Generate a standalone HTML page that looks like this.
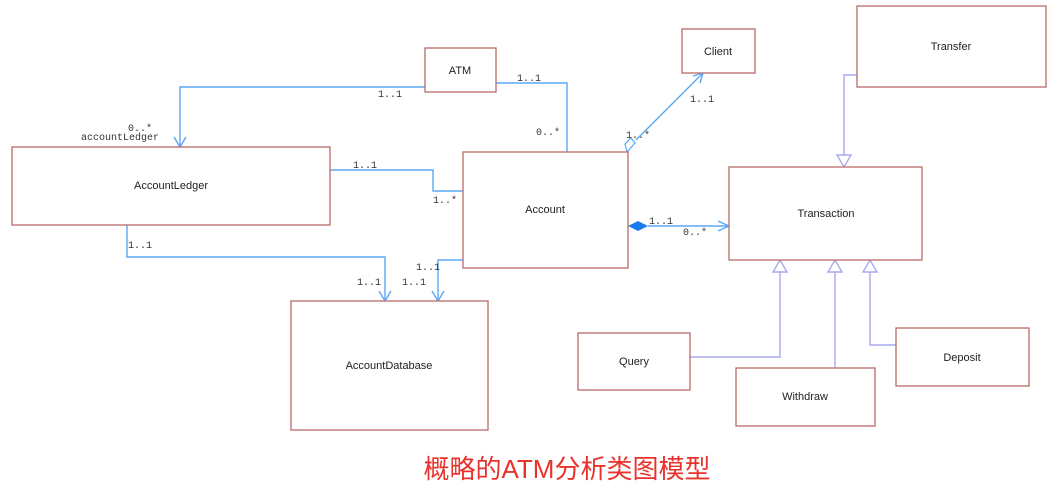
<!DOCTYPE html>
<html><head><style>
body{margin:0;background:#fff;}
svg{display:block}
.b{fill:#fff;stroke:#b86a6a;stroke-width:1.3}
.t{font-family:"Liberation Sans",sans-serif;font-size:11px;fill:#222;text-anchor:middle}
.m{font-family:"Liberation Mono",monospace;font-size:10px;fill:#333}
.a{fill:none;stroke:#5aa8f5;stroke-width:1.4}
.g{fill:none;stroke:#a9a9f0;stroke-width:1.4}
</style></head><body>
<svg width="1063" height="485" xmlns="http://www.w3.org/2000/svg">
<polyline class="a" points="425,87 180,87 180,147"/>
<polyline class="a" points="174,137 180,147 186,137"/>
<polyline class="a" points="496,83 567,83 567,152"/>
<polyline class="a" points="330,170 433,170 433,191 463,191"/>
<polyline class="a" points="127,225 127,257 385,257 385,301"/>
<polyline class="a" points="379,291 385,301 391,291"/>
<polyline class="a" points="463,260 438,260 438,301"/>
<polyline class="a" points="432,291 438,301 444,291"/>
<line class="a" x1="636" y1="140" x2="703" y2="73"/>
<polyline class="a" points="693,76 703,73 700,83"/>
<polygon points="627,152 625,144 631,138 635,143" fill="#fff" stroke="#5aa8f5" stroke-width="1.2"/>
<line class="a" x1="648" y1="226" x2="729" y2="226"/>
<polyline class="a" points="718,221 729,226 718,231"/>
<polygon points="628,226 638,221 648,226 638,231" fill="#1a7cf0"/>
<polyline class="g" points="857,75 844,75 844,156"/>
<polygon class="g" points="837,155 851,155 844,167" fill="#fff"/>
<polyline class="g" points="690,357 780,357 780,272"/>
<polygon class="g" points="773,272 787,272 780,260" fill="#fff"/>
<line class="g" x1="835" y1="368" x2="835" y2="272"/>
<polygon class="g" points="828,272 842,272 835,260" fill="#fff"/>
<polyline class="g" points="896,345 870,345 870,272"/>
<polygon class="g" points="863,272 877,272 870,260" fill="#fff"/>
<rect class="b" x="425" y="48" width="71" height="44"/><text class="t" x="460" y="74">ATM</text>
<rect class="b" x="682" y="29" width="73" height="44"/><text class="t" x="718" y="55">Client</text>
<rect class="b" x="857" y="6" width="189" height="81"/><text class="t" x="951" y="50">Transfer</text>
<rect class="b" x="12" y="147" width="318" height="78"/><text class="t" x="171" y="189">AccountLedger</text>
<rect class="b" x="463" y="152" width="165" height="116"/><text class="t" x="545" y="213">Account</text>
<rect class="b" x="729" y="167" width="193" height="93"/><text class="t" x="826" y="217">Transaction</text>
<rect class="b" x="291" y="301" width="197" height="129"/><text class="t" x="389" y="369">AccountDatabase</text>
<rect class="b" x="578" y="333" width="112" height="57"/><text class="t" x="634" y="365">Query</text>
<rect class="b" x="736" y="368" width="139" height="58"/><text class="t" x="805" y="400">Withdraw</text>
<rect class="b" x="896" y="328" width="133" height="58"/><text class="t" x="962" y="361">Deposit</text>
<text class="m" x="378" y="97">1..1</text>
<text class="m" x="517" y="81">1..1</text>
<text class="m" x="536" y="135">0..*</text>
<text class="m" x="128" y="131">0..*</text>
<text class="m" x="81" y="140">accountLedger</text>
<text class="m" x="353" y="168">1..1</text>
<text class="m" x="433" y="203">1..*</text>
<text class="m" x="128" y="248">1..1</text>
<text class="m" x="357" y="285">1..1</text>
<text class="m" x="402" y="285">1..1</text>
<text class="m" x="416" y="270">1..1</text>
<text class="m" x="626" y="138">1..*</text>
<text class="m" x="690" y="102">1..1</text>
<text class="m" x="649" y="224">1..1</text>
<text class="m" x="683" y="235">0..*</text>
<text x="567" y="478" font-family="'Liberation Sans','Noto Sans CJK SC',sans-serif" font-size="26" fill="#e8322b" text-anchor="middle">概略的ATM分析类图模型</text>
</svg>
</body></html>
